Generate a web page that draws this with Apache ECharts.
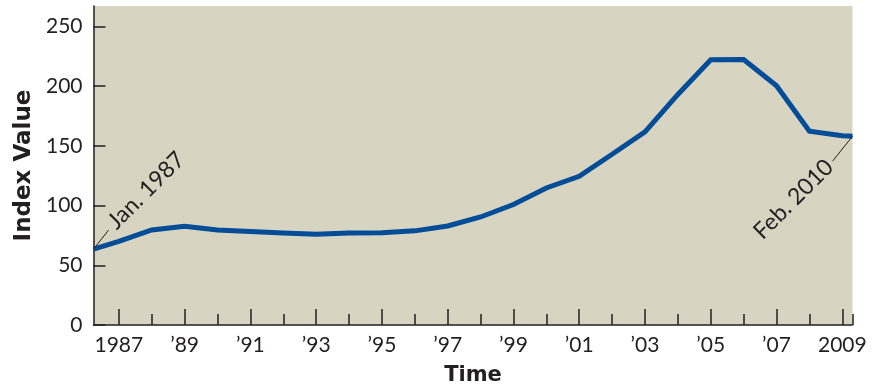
<!DOCTYPE html>
<html>
<head>
<meta charset="utf-8">
<script src="https://cdn.jsdelivr.net/npm/echarts@6/dist/echarts.min.js"></script>
<style>
  html, body { margin: 0; padding: 0; background: #ffffff; }
  #chart { width: 872px; height: 391px; }
</style>
</head>
<body>
<div id="chart"></div>
<script>
// Home price index: one reading per year, plus the first and latest monthly readings
const years = [1987, 1988, 1989, 1990, 1991, 1992, 1993, 1994, 1995, 1996, 1997, 1998,
               1999, 2000, 2001, 2002, 2003, 2004, 2005, 2006, 2007, 2008, 2009];
const indexValues = [70, 79.6, 82.6, 79.5, 78.2, 77.1, 76, 77, 77.3, 78.8, 82.9, 90.4,
                     100.8, 114.7, 124.4, 142.9, 161.7, 193, 222, 222.2, 200.3, 162.2, 158.4];

const startLabel = 'Jan. 1987';
const startTime = 1987.0;
const startValue = 63.5;

const endLabel = 'Feb. 2010';
const endTime = 2010.08;
const endValue = 158;

const yTicks = [0, 50, 100, 150, 200, 250];
const yMax = 267;

// annual readings sit late in each calendar year on the time axis
const YEAR_POS = 0.77;
const xOf = (yr) => yr + YEAR_POS;

const INK = '#231f20';
const LINE = '#034c97';
const PLOT_BG = '#d7d4c2';

const oddYearPos = years.filter(y => y % 2 === 1).map(xOf);
const evenYearPos = years.filter(y => y % 2 === 0).map(xOf).concat([endTime]);

function yearLabel(v) {
  const yr = Math.round(v - YEAR_POS);
  if (yr === years[0] || yr === years[years.length - 1]) return String(yr);
  return '\u2019' + String(yr).slice(2);
}

const seriesData = [[startTime, startValue]]
  .concat(years.map((y, i) => [xOf(y), indexValues[i]]))
  .concat([[endTime, endValue]]);

const chart = echarts.init(document.getElementById('chart'), null, { renderer: 'canvas' });

chart.setOption({
  animation: false,
  backgroundColor: '#ffffff',
  grid: {
    left: 93.5, right: 19.5, top: 6, bottom: 62.5,
    show: true, backgroundColor: PLOT_BG, borderWidth: 0
  },
  xAxis: [
    {
      type: 'value',
      min: startTime, max: endTime,
      name: 'Time',
      nameLocation: 'middle',
      nameGap: 40,
      nameTextStyle: { fontFamily: 'DejaVu Sans', fontWeight: 'bold', fontSize: 21, color: INK },
      axisLine: { show: true, onZero: false, lineStyle: { color: INK, width: 1.5 } },
      axisTick: { show: true, inside: true, length: 16, customValues: oddYearPos,
                  lineStyle: { color: INK, width: 1.5 } },
      axisLabel: { show: true, customValues: oddYearPos, formatter: yearLabel,
                   fontFamily: 'Lato', fontSize: 21, color: INK, margin: 10 },
      splitLine: { show: false }
    },
    {
      type: 'value',
      min: startTime, max: endTime,
      position: 'bottom',
      axisLine: { show: false },
      axisTick: { show: true, inside: true, length: 11, customValues: evenYearPos,
                  lineStyle: { color: INK, width: 1.5 } },
      axisLabel: { show: false },
      splitLine: { show: false }
    }
  ],
  yAxis: {
    type: 'value',
    min: 0, max: yMax,
    name: 'Index Value',
    nameLocation: 'middle',
    nameGap: 58,
    nameRotate: 90,
    nameTextStyle: { fontFamily: 'DejaVu Sans', fontWeight: 'bold', fontSize: 23, color: INK },
    axisLine: { show: true, lineStyle: { color: INK, width: 1.5 } },
    axisTick: { show: true, inside: true, length: 12, customValues: yTicks,
                lineStyle: { color: INK, width: 1.5 } },
    axisLabel: { show: true, customValues: yTicks,
                 fontFamily: 'Lato', fontSize: 21, color: INK, margin: 11 },
    splitLine: { show: false }
  },
  series: [{
    type: 'line',
    xAxisIndex: 0,
    yAxisIndex: 0,
    data: seriesData,
    showSymbol: false,
    symbol: 'none',
    lineStyle: { color: LINE, width: 5, join: 'miter' },
    z: 3
  }]
});

// callouts for the first and the latest reading, placed through the axis scales
const p0 = chart.convertToPixel({ xAxisIndex: 0, yAxisIndex: 0 }, [startTime, startValue]);
const p1 = chart.convertToPixel({ xAxisIndex: 0, yAxisIndex: 0 }, [endTime, endValue]);
const tilt = Math.PI / 4;

chart.setOption({
  graphic: [
    {
      type: 'line', z: 10,
      shape: { x1: p0[0], y1: p0[1], x2: p0[0] + 15, y2: p0[1] - 19 },
      style: { stroke: INK, lineWidth: 1 }
    },
    {
      type: 'text', z: 10,
      x: p0[0] + 18, y: p0[1] - 24, rotation: tilt,
      style: { text: startLabel, fill: INK, font: '23px Lato',
               textAlign: 'left', textVerticalAlign: 'middle' }
    },
    {
      type: 'line', z: 10,
      shape: { x1: p1[0], y1: p1[1], x2: p1[0] - 20, y2: p1[1] + 25 },
      style: { stroke: INK, lineWidth: 1 }
    },
    {
      type: 'text', z: 10,
      x: p1[0] - 23, y: p1[1] + 27, rotation: tilt,
      style: { text: endLabel, fill: INK, font: '23px Lato',
               textAlign: 'right', textVerticalAlign: 'middle' }
    }
  ]
});
</script>
</body>
</html>
